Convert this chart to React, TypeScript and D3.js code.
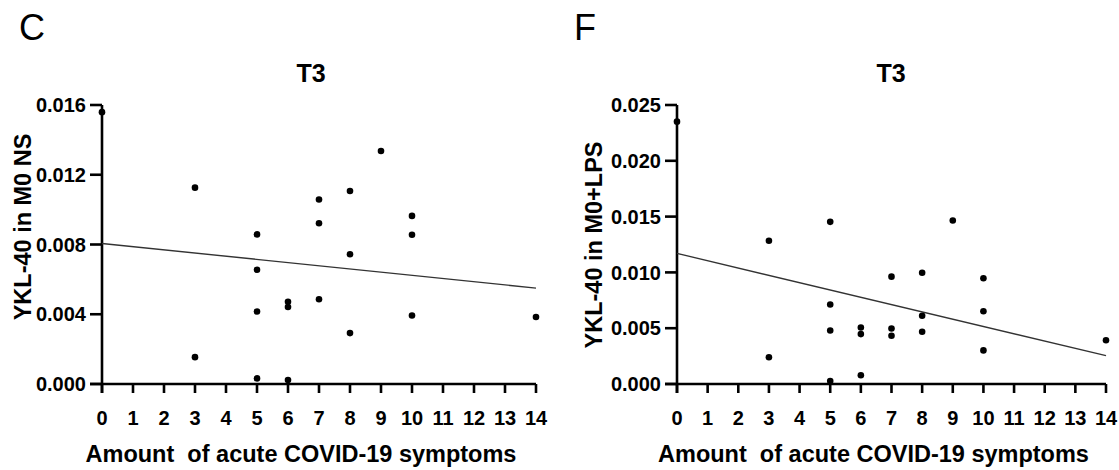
import React from "react";
import * as d3 from "d3";

const xTicks = [0, 1, 2, 3, 4, 5, 6, 7, 8, 9, 10, 11, 12, 13, 14];

const symptomsC = [0, 3, 3, 5, 5, 5, 5, 6, 6, 6, 7, 7, 7, 8, 8, 8, 9, 10, 10, 10, 14];
const ykl40NS = [0.01559, 0.01126, 0.00154, 0.00858, 0.00655, 0.00416, 0.00032, 0.00472, 0.00442, 0.00023, 0.01058, 0.00922, 0.00486, 0.01107, 0.00744, 0.00292, 0.01336, 0.00964, 0.00856, 0.00393, 0.00384];
const fitC = [0.00806, 0.0055]; // fitted values at x=0 and x=14
const yTicksC = [0, 0.004, 0.008, 0.012, 0.016];

const symptomsF = [0, 3, 3, 5, 5, 5, 5, 6, 6, 6, 7, 7, 7, 8, 8, 8, 9, 10, 10, 10, 14];
const ykl40LPS = [0.02351, 0.01284, 0.0024, 0.01453, 0.00713, 0.0048, 0.00026, 0.00506, 0.00447, 0.00079, 0.00962, 0.00497, 0.00433, 0.00997, 0.00611, 0.00468, 0.01465, 0.00947, 0.00652, 0.00301, 0.00392];
const fitF = [0.0117, 0.00254];
const yTicksF = [0, 0.005, 0.01, 0.015, 0.02, 0.025];

const FONT = "'Liberation Sans', Arial, sans-serif";

type PanelProps = {
  letter: string;
  letterX: number;
  title: string;
  titleX: number;
  yLabel: string;
  yLabelX: number;
  yLabelY: number;
  x0: number;
  x1: number;
  y0: number;
  y1: number;
  xs: number[];
  ys: number[];
  fit: number[];
  yTicks: number[];
};

function Panel(p: PanelProps) {
  const x = d3.scaleLinear().domain([0, 14]).range([p.x0, p.x1]);
  const y = d3.scaleLinear().domain([0, p.yTicks[p.yTicks.length - 1]]).range([p.y0, p.y1]);
  const fmt = d3.format(".3f");
  const tickLen = 12;
  const xTickLen = 9;
  const line = d3.line<[number, number]>().x((d) => x(d[0])).y((d) => y(d[1]));
  return (
    <g>
      <text x={p.letterX} y={40} fontSize={36} fontFamily={FONT}>{p.letter}</text>
      <text x={p.titleX} y={82} fontSize={25} fontWeight="bold" fontFamily={FONT} textAnchor="middle">{p.title}</text>
      <text
        transform={`translate(${p.yLabelX},${p.yLabelY}) rotate(-90)`}
        fontSize={23.5}
        fontWeight="bold"
        fontFamily={FONT}
        textAnchor="middle"
      >
        {p.yLabel}
      </text>
      {/* y axis */}
      <line x1={x(0)} x2={x(0)} y1={y(0) + xTickLen} y2={p.y1} stroke="#000" strokeWidth={2.6} />
      {p.yTicks.map((t) => (
        <g key={t}>
          <line x1={x(0) - tickLen} x2={x(0)} y1={y(t)} y2={y(t)} stroke="#000" strokeWidth={2.6} />
          <text x={x(0) - tickLen - 4} y={y(t)} dy="0.36em" textAnchor="end" fontSize={20} fontWeight="bold" fontFamily={FONT}>
            {fmt(t)}
          </text>
        </g>
      ))}
      {/* x axis */}
      <line x1={x(0) - tickLen} x2={x(14)} y1={y(0)} y2={y(0)} stroke="#000" strokeWidth={2.6} />
      {xTicks.map((t) => (
        <g key={t}>
          <line x1={x(t)} x2={x(t)} y1={y(0)} y2={y(0) + xTickLen} stroke="#000" strokeWidth={2.6} />
          <text x={x(t)} y={y(0) + 41} textAnchor="middle" fontSize={20} fontWeight="bold" fontFamily={FONT}>
            {t}
          </text>
        </g>
      ))}
      <text x={(p.x0 + p.x1) / 2 - 18} y={462} textAnchor="middle" fontSize={23.5} fontWeight="bold" fontFamily={FONT} style={{ whiteSpace: "pre" }}>
        {"Amount  of acute COVID-19 symptoms"}
      </text>
      <path d={line([[0, p.fit[0]], [14, p.fit[1]]]) || ""} stroke="#333" strokeWidth={1.4} fill="none" />
      {p.xs.map((v, i) => (
        <circle key={i} cx={x(v)} cy={y(p.ys[i])} r={3.3} fill="#000" />
      ))}
    </g>
  );
}

export default function App() {
  return (
    <svg width={1119} height={470} style={{ position: "absolute", left: 0, top: 0, background: "#fff" }}>
      <rect width={1119} height={470} fill="#fff" />
      <Panel
        letter="C"
        letterX={19}
        title="T3"
        titleX={311}
        yLabel="YKL-40 in M0 NS"
        yLabelX={31}
        yLabelY={227}
        x0={102}
        x1={536}
        y0={384}
        y1={105}
        xs={symptomsC}
        ys={ykl40NS}
        fit={fitC}
        yTicks={yTicksC}
      />
      <Panel
        letter="F"
        letterX={574}
        title="T3"
        titleX={891}
        yLabel="YKL-40 in M0+LPS"
        yLabelX={602}
        yLabelY={245}
        x0={677}
        x1={1106}
        y0={384}
        y1={105}
        xs={symptomsF}
        ys={ykl40LPS}
        fit={fitF}
        yTicks={yTicksF}
      />
    </svg>
  );
}
